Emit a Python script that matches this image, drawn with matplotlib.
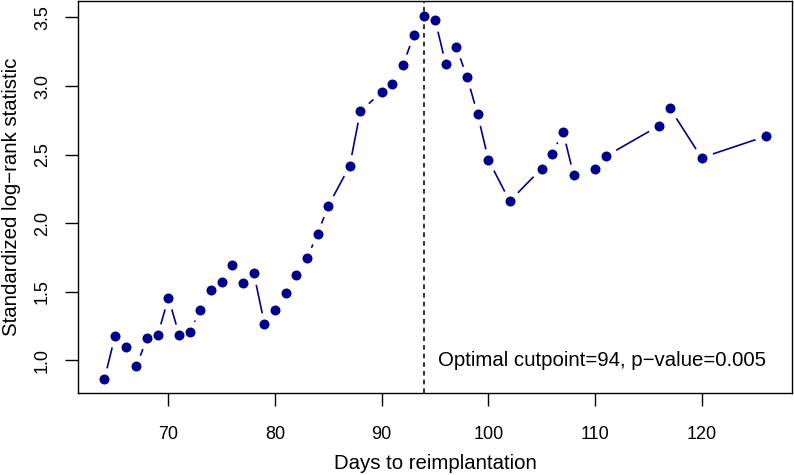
import matplotlib
matplotlib.use("Agg")
import matplotlib.pyplot as plt
import numpy as np

# ---- data ----
days = [64, 65, 66, 67, 68, 69, 70, 71, 72, 73, 74, 75, 76, 77, 78, 79, 80, 81,
        82, 83, 84, 85, 87, 88, 90, 91, 92, 93, 94, 95, 96, 97, 98, 99, 100,
        102, 105, 106, 107, 108, 110, 111, 116, 117, 120, 126]
stat = [0.865, 1.180, 1.100, 0.955, 1.165, 1.185, 1.455, 1.187, 1.209, 1.369,
        1.515, 1.568, 1.697, 1.563, 1.637, 1.267, 1.365, 1.490, 1.619, 1.747,
        1.924, 2.128, 2.417, 2.817, 2.955, 3.012, 3.150, 3.370, 3.514, 3.485,
        3.164, 3.283, 3.067, 2.793, 2.463, 2.160, 2.398, 2.505, 2.668, 2.352,
        2.395, 2.487, 2.710, 2.841, 2.477, 2.633]
cutpoint = 94
annot_text = "Optimal cutpoint=94, p\u2212value=0.005"
x_label = "Days to reimplantation"
y_label = "Standardized log\u2212rank statistic"
x_ticks = [70, 80, 90, 100, 110, 120]
y_ticks = [1.0, 1.5, 2.0, 2.5, 3.0, 3.5]
y_ticklabels = ["1.0", "1.5", "2.0", "2.5", "3.0", "3.5"]

plt.rcParams['font.family'] = ['Liberation Sans', 'DejaVu Sans']

W, H = 794, 475
fig = plt.figure(figsize=(W / 100, H / 100), dpi=100)
ax_l, ax_r, ax_t, ax_b = 78, 792, 1, 393.3
ax = fig.add_axes([ax_l / W, (H - ax_b) / H, (ax_r - ax_l) / W, (ax_b - ax_t) / H])

navy = "#00008B"
ax.plot(days, stat, color=navy, lw=1.2, zorder=1, solid_capstyle='butt')
ax.plot(days, stat, 'o', ms=16.5, mfc='white', mec='none', ls='none', zorder=2)
ax.axvline(cutpoint, color="#222222", lw=1.3, dashes=(2.6, 2.2), zorder=2.6)
ax.plot(days, stat, 'o', ms=7.2, mfc=navy, mec='none', ls='none', zorder=3)

# R-style 4% axis expansion
xr = max(days) - min(days)
yr = max(stat) - min(stat)
ax.set_xlim(min(days) - 0.04 * xr, max(days) + 0.04 * xr)
ax.set_ylim(min(stat) - 0.04 * yr, max(stat) + 0.04 * yr)

ax.set_xticks(x_ticks)
ax.set_yticks(y_ticks)
ax.set_yticklabels(y_ticklabels, rotation=90, va='center')
ax.tick_params(axis='both', direction='out', length=9.4, width=1.0,
               labelsize=13, colors='black')
ax.tick_params(axis='x', pad=14)
ax.tick_params(axis='y', pad=10)
for s in ax.spines.values():
    s.set_linewidth(1.0)
    s.set_color('black')

ax.set_xlabel(x_label, fontsize=14.7)
ax.set_ylabel(y_label, fontsize=14.7)
ax.xaxis.set_label_coords(0.5, -0.156)
ax.yaxis.set_label_coords(-0.0794, 0.5)

ax.annotate(annot_text, xy=(cutpoint, 1.0), xytext=(9.8, 0),
            textcoords='offset points', ha='left', va='center', fontsize=14.7)

fig.savefig("out.png", dpi=100)
